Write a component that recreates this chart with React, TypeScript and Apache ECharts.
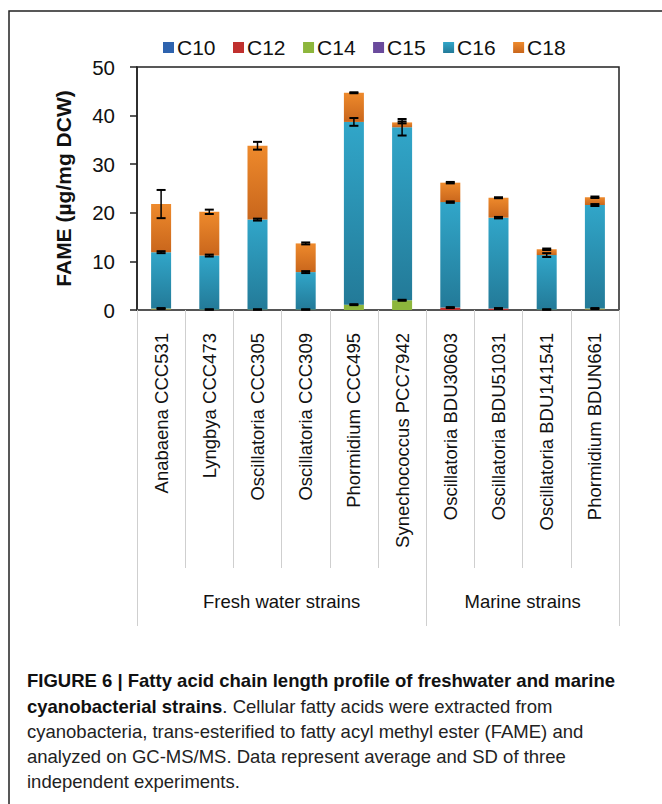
import React, { useEffect, useRef } from "react";
import * as echarts from "echarts";

const categories = [
  "Anabaena CCC531",
  "Lyngbya CCC473",
  "Oscillatoria CCC305",
  "Oscillatoria CCC309",
  "Phormidium CCC495",
  "Synechococcus PCC7942",
  "Oscillatoria BDU30603",
  "Oscillatoria BDU51031",
  "Oscillatoria BDU141541",
  "Phormidium BDUN661",
];
const seriesNames = ["C10", "C12", "C14", "C15", "C16", "C18"];
const c10 = [0, 0, 0, 0, 0, 0, 0, 0, 0, 0];
const c12 = [0.1, 0, 0, 0, 0, 0, 0.5, 0.3, 0, 0.1];
const c14 = [0.2, 0.1, 0.1, 0.1, 1.1, 2.0, 0, 0, 0.1, 0.2];
const c15 = [0, 0, 0, 0, 0, 0, 0, 0, 0, 0];
const c16 = [11.6, 11.1, 18.5, 7.7, 37.6, 35.6, 21.7, 18.7, 11.2, 21.3];
const c18 = [9.9, 9.0, 15.2, 5.9, 6.0, 1.0, 4.0, 4.1, 1.2, 1.6];
// standard deviations, drawn at the top of each segment
const sdC14 = [0.1, 0.05, 0.05, 0.05, 0.1, 0.1, 0.1, 0.1, 0.05, 0.1];
const sdC16 = [0.2, 0.2, 0.2, 0.2, 0.8, 1.7, 0.15, 0.15, 0.4, 0.2];
const sdC18 = [2.9, 0.45, 0.8, 0.2, 0.1, 0.2, 0.15, 0.1, 0.15, 0.15];

const groups = [
  { name: "Fresh water strains", from: 0, to: 6 },
  { name: "Marine strains", from: 6, to: 10 },
];
const yMin = 0;
const yMax = 50;
const yInterval = 10;

const captionLines = [
  [{ b: "FIGURE 6 | Fatty acid chain length profile of freshwater and marine" }],
  [{ b: "cyanobacterial strains" }, { r: ". Cellular fatty acids were extracted from" }],
  [{ r: "cyanobacteria, trans-esterified to fatty acyl methyl ester (FAME) and" }],
  [{ r: "analyzed on GC-MS/MS. Data represent average and SD of three" }],
  [{ r: "independent experiments." }],
];

const FONT = "Arial, 'Liberation Sans', Helvetica, sans-serif";

export default function App() {
  const ref = useRef<HTMLDivElement>(null);
  useEffect(() => {
    if (!ref.current) return;
    const chart = echarts.init(ref.current, null, { renderer: "svg" });

    const gridLeft = 137;
    const gridTop = 67;
    const gridWidth = 482;
    const gridHeight = 243;
    const gridBottom = gridTop + gridHeight;
    const band = gridWidth / categories.length;

    const grad = (a: string, b: string) =>
      new echarts.graphic.LinearGradient(0, 0, 0, 1, [
        { offset: 0, color: a },
        { offset: 1, color: b },
      ]);
    const colors = [
      "#2E63AE",
      "#C0302E",
      "#8DB63C",
      "#6A4A9C",
      grad("#31A6C9", "#237A98"),
      grad("#EE8A2C", "#C9661C"),
    ];
    const values = [c10, c12, c14, c15, c16, c18];

    const errData: number[][] = [];
    categories.forEach((_, i) => {
      const t14 = c10[i] + c12[i] + c14[i];
      const t16 = t14 + c15[i] + c16[i];
      const t18 = t16 + c18[i];
      errData.push([i, t14, sdC14[i]]);
      errData.push([i, t16, sdC16[i]]);
      errData.push([i, t18, sdC18[i]]);
    });

    const graphics: any[] = [];
    // outer frame
    graphics.push({
      type: "polyline",
      shape: { points: [[9, 804], [9, 11], [662, 11]] },
      style: { stroke: "#222", lineWidth: 1.5, fill: null },
      silent: true,
    });
    // group separators and labels
    const sepX = [0, 6, 10];
    sepX.forEach((k) => {
      const x = Math.round(gridLeft + k * band) + 0.5;
      graphics.push({
        type: "line",
        shape: { x1: x, y1: gridBottom, x2: x, y2: 626 },
        style: { stroke: "#cfcfcf", lineWidth: 1 },
        silent: true,
      });
    });
    groups.forEach((g) => {
      graphics.push({
        type: "text",
        x: gridLeft + ((g.from + g.to) / 2) * band,
        y: 601,
        style: {
          text: g.name,
          fontSize: 18.5,
          fontFamily: FONT,
          fill: "#111",
          align: "center",
          verticalAlign: "middle",
        },
      });
    });
    // caption
    const capY = [680, 706, 731, 756, 781];
    captionLines.forEach((parts, li) => {
      const text = parts
        .map((p: any) => (p.b !== undefined ? `{b|${p.b}}` : `{r|${p.r}}`))
        .join("");
      graphics.push({
        type: "text",
        x: 27,
        y: capY[li],
        style: {
          text,
          verticalAlign: "middle",
          align: "left",
          rich: {
            b: { fontSize: 18.5, fontWeight: "bold", fontFamily: FONT, fill: "#111" },
            r: { fontSize: 18.5, fontFamily: FONT, fill: "#222" },
          },
        },
      });
    });

    const option: any = {
      animation: false,
      backgroundColor: "#fff",
      legend: {
        data: seriesNames,
        top: 32,
        left: 158,
        icon: "rect",
        itemWidth: 11,
        itemHeight: 11,
        itemGap: 17.5,
        textStyle: { fontSize: 21, fontFamily: FONT, color: "#111", padding: [0, 0, 0, -2] },
      },
      grid: {
        left: gridLeft,
        top: gridTop,
        width: gridWidth,
        height: gridHeight,
        show: true,
        borderColor: "#222",
        borderWidth: 1.5,
        containLabel: false,
      },
      xAxis: {
        type: "category",
        data: categories,
        axisLine: { show: true, lineStyle: { color: "#555", width: 2 } },
        axisTick: {
          show: true,
          interval: 0,
          length: 258,
          lineStyle: { color: "#cfcfcf", width: 1 },
        },
        axisLabel: {
          interval: 0,
          rotate: 90,
          margin: 23,
          fontSize: 18.5,
          fontFamily: FONT,
          color: "#111",
        },
      },
      yAxis: {
        type: "value",
        min: yMin,
        max: yMax,
        interval: yInterval,
        name: "FAME (µg/mg DCW)",
        nameLocation: "middle",
        nameRotate: 90,
        nameGap: 63,
        nameTextStyle: { fontSize: 21, fontWeight: "bold", fontFamily: FONT, color: "#111" },
        axisLine: { show: true, lineStyle: { color: "#222", width: 1.5 } },
        axisTick: { show: true, inside: false, length: 7, lineStyle: { color: "#222", width: 1.5 } },
        axisLabel: { fontSize: 20.5, fontFamily: FONT, color: "#111", margin: 22 },
        splitLine: { show: false },
      },
      series: [
        ...seriesNames.map((name, k) => ({
          name,
          type: "bar",
          stack: "total",
          barWidth: 20,
          data: values[k],
          itemStyle: { color: colors[k] },
          emphasis: { disabled: true },
        })),
        {
          name: "SD",
          type: "custom",
          data: errData,
          z: 10,
          renderItem: (params: any, api: any) => {
            const i = api.value(0);
            const y = api.value(1);
            const sd = api.value(2);
            const hi = api.coord([i, y + sd]);
            const lo = api.coord([i, y - sd]);
            const cx = hi[0];
            const w = 4.5;
            const st = { stroke: "#000", lineWidth: 2 };
            return {
              type: "group",
              children: [
                { type: "line", shape: { x1: cx, y1: hi[1], x2: cx, y2: lo[1] }, style: { stroke: "#000", lineWidth: 1.5 } },
                { type: "line", shape: { x1: cx - w, y1: hi[1], x2: cx + w, y2: hi[1] }, style: st },
                { type: "line", shape: { x1: cx - w, y1: lo[1], x2: cx + w, y2: lo[1] }, style: st },
              ],
            };
          },
        },
      ],
      graphic: graphics,
    };
    chart.setOption(option);
    return () => chart.dispose();
  }, []);
  return (
    <div
      ref={ref}
      style={{ position: "absolute", left: 0, top: 0, width: 662, height: 804, background: "#fff" }}
    />
  );
}
